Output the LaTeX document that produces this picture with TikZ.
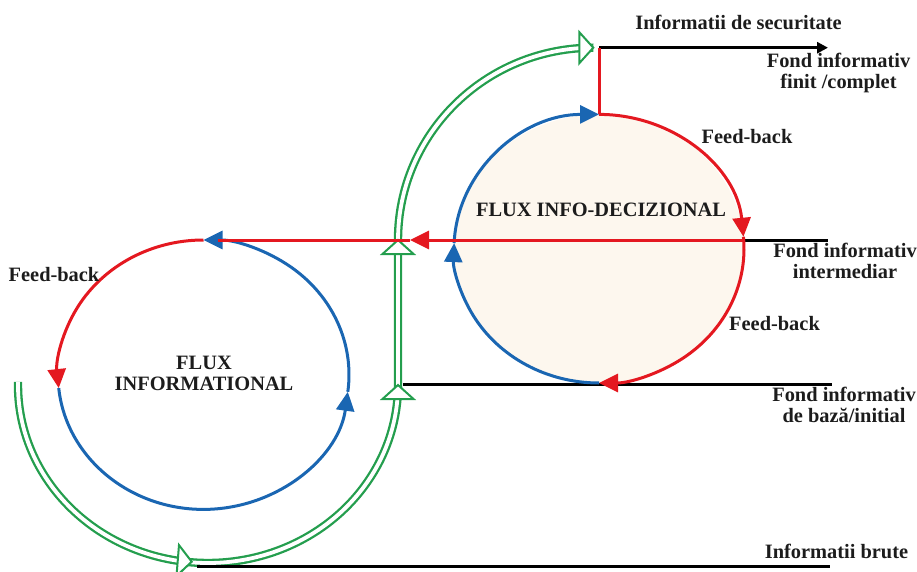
\documentclass[tikz,border=0pt]{standalone}
\usepackage{fontspec}
\setmainfont{Liberation Serif}
\usetikzlibrary{arrows.meta}
\definecolor{cred}{RGB}{228,24,32}
\definecolor{cblue}{RGB}{26,102,178}
\definecolor{cgreen}{RGB}{36,158,78}
\definecolor{cbeige}{RGB}{253,247,238}
\definecolor{ctext}{RGB}{28,28,28}
\newcommand\lblfont{\fontsize{20.4}{21}\selectfont\bfseries}
\tikzset{
  redl/.style={draw=cred, line width=3pt},
  bluel/.style={draw=cblue, line width=3pt},
  blk/.style={draw=black, line width=3pt},
  gline/.style={draw=cgreen, line width=2.3pt, double=white, double distance=3.8pt},
  ahead/.style={-{Triangle[width=18pt,length=19pt]}},
  lbl/.style={font=\lblfont, text=ctext, align=center, inner sep=0pt, anchor=base},
  gtip/.pic={\filldraw[draw=cgreen, fill=white, line width=2pt, line join=miter]
     (0,0) -- (-14,15.5) -- (-14,-15.5) -- cycle;}
}
\begin{document}
\begin{tikzpicture}[x=1pt,y=1pt]
\useasboundingbox (0,0) rectangle (917,571);
% centres
\coordinate (R) at (599,322.3);
\coordinate (L) at (203.5,196.3);
\coordinate (GC1) at (208,186);
\coordinate (GV1) at (398,186);
\coordinate (GV2) at (398,331);
\coordinate (GEnd) at (593.3,523.3);
% right circle fill
\fill[cbeige] (R) ellipse[x radius=145, y radius=134.3];
% green double flow
\draw[gline] (GC1) ++(179:190 and 178) arc[start angle=179, end angle=360, x radius=190, y radius=178]
   -- (GV2) arc[start angle=180, end angle=90, x radius=195.3, y radius=192.3];
\pic[rotate=-4.6] at (191.7,9.3) {gtip};
\pic[rotate=90] at (GV1) {gtip};
\pic[rotate=90] at (GV2) {gtip};
\pic at (GEnd) {gtip};
% key points
\coordinate (RT) at (599,456.6);
\coordinate (RX) at (743.7,331);
\coordinate (LT) at (203.5,331);
\coordinate (RA) at (410,331);
\coordinate (TopA) at (599,523.3);
\coordinate (TopB) at (828,523.3);
\coordinate (MidB) at (828,331);
\coordinate (BaseA) at (403,186.7);
\coordinate (BaseB) at (832,186.7);
\coordinate (BruA) at (197,4.3);
\coordinate (BruB) at (830,4.3);
% black lines
\draw[blk, -{Triangle[width=11pt,length=11pt]}] (TopA) -- (TopB);
\draw[blk] (RX) -- (MidB);
\draw[blk] (BaseA) -- (BaseB);
\draw[blk] (BruA) -- (BruB);
% right circle
\draw[redl] (RT) -- (TopA);
\draw[redl, ahead] (RT) arc[start angle=90, end angle=5.1, x radius=145, y radius=134.3];
\draw[redl, ahead] (R) ++(5.1:145 and 134.3) arc[start angle=5.1, end angle=-90, x radius=145, y radius=134.3];
\draw[bluel, ahead] (R) ++(270:145 and 134.3) arc[start angle=270, end angle=177.6, x radius=145, y radius=134.3];
\draw[bluel, ahead] (R) ++(177.6:145 and 134.3) arc[start angle=177.6, end angle=90, x radius=145, y radius=134.3];
% left circle
\draw[redl, ahead] (LT) arc[start angle=90, end angle=185.7, x radius=145.5, y radius=134.7];
\draw[bluel, ahead] (L) ++(185.7:145.5 and 134.7) arc[start angle=185.7, end angle=352.7, x radius=145.5, y radius=134.7];
\draw[bluel, ahead] (L) ++(352.7:145.5 and 134.7) arc[start angle=352.7, end angle=450, x radius=145.5, y radius=134.7];
% red feedback line
\draw[redl, ahead] (RX) -- (RA);
\draw[redl] (RA) -- ([xshift=14pt]LT);
% labels (anchor = baseline of last line)
\node[lbl] (t1) at (738.5,541) {Informatii de securitate};
\node[lbl] (t2) at (838.5,482) {Fond informativ\\finit /complet};
\node[lbl] (t3) at (747,427) {Feed-back};
\node[lbl] (t4) at (601,354.3) {FLUX INFO-DECIZIONAL};
\node[lbl] (t5) at (845,292.7) {Fond informativ\\intermediar};
\node[lbl] (t6) at (774.5,241) {Feed-back};
\node[lbl] (t7) at (844,148.5) {Fond informativ\\de bază/initial};
\node[lbl] (t8) at (836.5,12.7) {Informatii brute};
\node[lbl] (t9) at (54,289.3) {Feed-back};
\node[lbl] (t10) at (204,180.3) {FLUX\\INFORMATIONAL};
\end{tikzpicture}
\end{document}
